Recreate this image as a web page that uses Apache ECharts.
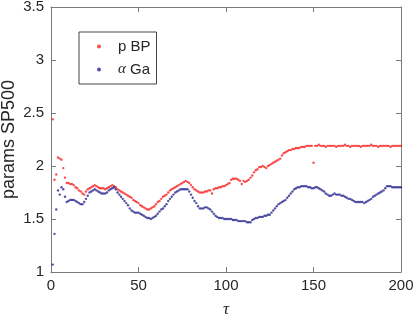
<!DOCTYPE html>
<html>
<head>
<meta charset="utf-8">
<script src="https://cdn.jsdelivr.net/npm/echarts@6/dist/echarts.min.js"></script>
<style>html,body{margin:0;padding:0;background:#fff}#c{width:415px;height:317px}</style>
</head>
<body>
<div id="c"></div>
<script>
var xTicks = [0, 50, 100, 150, 200];
var yTicks = [1, 1.5, 2, 2.5, 3, 3.5];
var seriesNames = ['p BP', 'α Ga'];
var pBP = [
2.44,1.87,1.92,2.08,2.07,2.06,1.98,1.89,1.84,1.84,
1.83,1.83,1.82,1.80,1.79,1.77,1.76,1.74,1.73,1.76,
1.78,1.79,1.80,1.81,1.82,1.81,1.80,1.79,1.79,1.79,
1.78,1.79,1.80,1.81,1.82,1.81,1.80,1.78,1.77,1.76,
1.75,1.74,1.73,1.72,1.71,1.70,1.68,1.67,1.66,1.65,
1.63,1.62,1.61,1.60,1.59,1.59,1.60,1.61,1.62,1.64,
1.66,1.67,1.69,1.71,1.72,1.73,1.75,1.77,1.78,1.79,
1.80,1.81,1.82,1.83,1.84,1.85,1.86,1.85,1.84,1.82,
1.80,1.78,1.77,1.76,1.75,1.75,1.75,1.76,1.76,1.77,
1.77,1.74,1.78,1.79,1.79,1.80,1.80,1.81,1.81,1.82,
1.83,1.84,1.87,1.88,1.88,1.88,1.87,1.86,1.83,1.86,
1.85,1.86,1.87,1.89,1.91,1.94,1.96,1.97,1.99,1.99,
2.00,1.99,1.98,2.00,2.01,2.02,2.03,2.04,2.05,2.06,
2.07,2.10,2.12,2.13,2.14,2.15,2.15,2.16,2.16,2.17,
2.17,2.17,2.18,2.18,2.18,2.19,2.19,2.19,2.19,2.03,
2.19,2.19,2.20,2.19,2.19,2.19,2.18,2.19,2.19,2.19,
2.19,2.19,2.18,2.19,2.19,2.19,2.19,2.20,2.19,2.19,
2.18,2.19,2.19,2.19,2.19,2.19,2.18,2.19,2.19,2.19,
2.19,2.19,2.20,2.19,2.19,2.19,2.18,2.19,2.19,2.19,
2.19,2.19,2.19,2.18,2.19,2.19,2.19,2.19,2.19,2.19
];
var alphaGa = [
1.07,1.36,1.59,1.77,1.73,1.80,1.78,1.71,1.66,1.67,
1.68,1.68,1.68,1.67,1.66,1.65,1.64,1.64,1.66,1.69,
1.72,1.75,1.76,1.77,1.78,1.77,1.76,1.75,1.74,1.74,
1.74,1.75,1.77,1.78,1.79,1.80,1.78,1.75,1.73,1.71,
1.69,1.67,1.65,1.63,1.60,1.58,1.57,1.56,1.56,1.56,
1.55,1.54,1.53,1.52,1.51,1.51,1.50,1.51,1.52,1.53,
1.55,1.57,1.59,1.60,1.62,1.64,1.67,1.69,1.71,1.73,
1.75,1.76,1.77,1.78,1.78,1.78,1.78,1.78,1.76,1.73,
1.70,1.67,1.65,1.62,1.60,1.60,1.60,1.61,1.61,1.60,
1.59,1.57,1.55,1.53,1.52,1.51,1.51,1.51,1.50,1.50,
1.50,1.50,1.50,1.49,1.49,1.49,1.48,1.48,1.48,1.48,
1.48,1.47,1.47,1.47,1.49,1.50,1.51,1.51,1.52,1.52,
1.52,1.53,1.53,1.54,1.54,1.56,1.58,1.60,1.62,1.64,
1.65,1.66,1.67,1.68,1.70,1.72,1.74,1.76,1.78,1.79,
1.80,1.80,1.81,1.81,1.81,1.81,1.80,1.80,1.79,1.79,
1.80,1.80,1.79,1.78,1.77,1.76,1.74,1.73,1.72,1.72,
1.73,1.74,1.73,1.73,1.73,1.72,1.72,1.71,1.70,1.69,
1.69,1.68,1.67,1.66,1.66,1.66,1.66,1.66,1.65,1.66,
1.67,1.68,1.69,1.71,1.72,1.73,1.74,1.75,1.76,1.77,
1.79,1.81,1.81,1.81,1.80,1.80,1.80,1.80,1.80,1.80
];

function pairs(arr){ return arr.map(function(v,i){ return [i+1, v]; }); }

var chart = echarts.init(document.getElementById('c'), null, {renderer:'canvas'});
var axisCol = '#7a7a7a';
var textCol = '#262626';
var font = 'Liberation Sans, Arial, Helvetica, sans-serif';
function xAx(pos, show){
  return {
    type:'value', position:pos, min:xTicks[0], max:xTicks[xTicks.length-1], interval:50,
    axisLine:{show:true, onZero:false, lineStyle:{color:axisCol, width:1}},
    axisTick:{show:true, inside:true, length:5, lineStyle:{color:axisCol}},
    axisLabel:{show:show, color:textCol, fontSize:15, fontFamily:font, margin:6},
    splitLine:{show:false},
    name: show ? 'τ' : '', nameLocation:'middle', nameGap:29, nameMoveOverlap:false,
    nameTextStyle:{fontSize:17, fontStyle:'italic', color:textCol, fontFamily:'Liberation Serif, Times New Roman, serif'}
  };
}
function yAx(pos, show){
  return {
    type:'value', position:pos, min:yTicks[0], max:yTicks[yTicks.length-1], interval:0.5,
    axisLine:{show:true, onZero:false, lineStyle:{color:axisCol, width:1}},
    axisTick:{show:true, inside:true, length:5, lineStyle:{color:axisCol}},
    axisLabel:{show:show, color:textCol, fontSize:15, fontFamily:font, margin:7},
    splitLine:{show:false},
    name: show ? 'params SP500' : '', nameLocation:'middle', nameGap:33, nameMoveOverlap:false,
    nameTextStyle:{fontSize:18, color:textCol, fontFamily:font}
  };
}
chart.setOption({
  animation:false,
  backgroundColor:'#ffffff',
  grid:{left:51, right:14, top:7, bottom:45, containLabel:false, outerBoundsMode:'none'},
  xAxis:[xAx('bottom', true), xAx('top', false)],
  yAxis:[yAx('left', true), yAx('right', false)],
  legend:{
    left:79, top:32, orient:'vertical',
    backgroundColor:'#ffffff', borderColor:'#444', borderWidth:1,
    padding:[7, 6, 7, 18], itemGap:8, itemWidth:4, itemHeight:4,
    icon:'circle',
    data: seriesNames,
    textStyle:{fontSize:15, color:textCol, fontFamily:font, padding:[0,0,0,12],
      rich:{i:{fontStyle:'italic', fontSize:15, fontFamily:'Liberation Serif, serif', color:textCol}}},
    formatter:function(n){ return n === 'α Ga' ? '{i|α} Ga' : n; }
  },
  series:[
    {name:seriesNames[0], type:'scatter', data:pairs(pBP), symbol:'circle', symbolSize:2.4,
     itemStyle:{color:'#f82020'}, xAxisIndex:0, yAxisIndex:0},
    {name:seriesNames[1], type:'scatter', data:pairs(alphaGa), symbol:'circle', symbolSize:2.4,
     itemStyle:{color:'#262690'}, xAxisIndex:0, yAxisIndex:0}
  ]
});
</script>
</body>
</html>
